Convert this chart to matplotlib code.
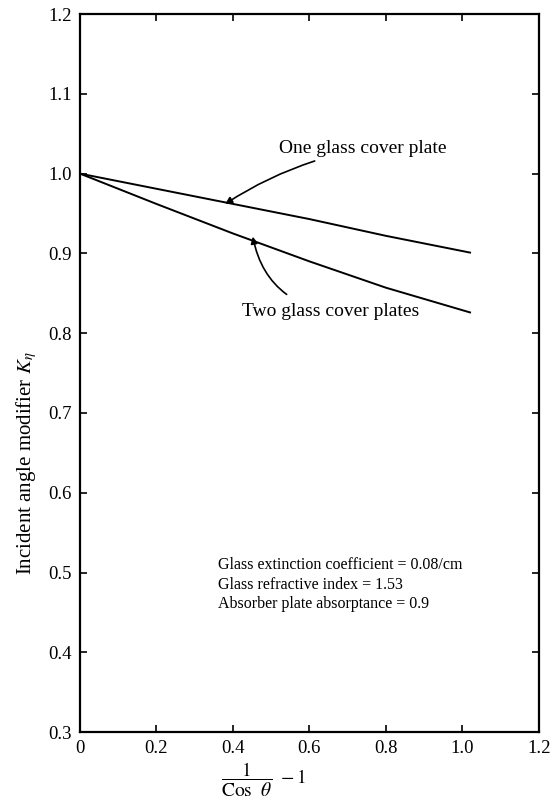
import matplotlib.pyplot as plt
import numpy as np

plt.rcParams['font.family'] = ['Liberation Serif', 'DejaVu Serif']
plt.rcParams['mathtext.fontset'] = 'stix'

# incidence parameter 1/cos(theta) - 1
x_vals = [0.0, 0.2, 0.4, 0.6, 0.8, 1.02]
# incident angle modifier for one and two cover plates
k_one = [1.0, 0.981, 0.962, 0.943, 0.922, 0.901]
k_two = [1.0, 0.962, 0.925, 0.890, 0.857, 0.826]

notes = ["Glass extinction coefficient = 0.08/cm",
         "Glass refractive index = 1.53",
         "Absorber plate absorptance = 0.9"]

fig = plt.figure(figsize=(5.51, 8.01), dpi=100)
ax = fig.add_axes([0.145, 0.086, 0.833, 0.8965])

ax.plot(x_vals, k_one, color='black', lw=1.4)
ax.plot(x_vals, k_two, color='black', lw=1.4)

ax.set_xlim(0, 1.2)
ax.set_ylim(0.3, 1.2)
ax.set_xticks(np.arange(0, 1.21, 0.2))
ax.set_xticklabels(['0', '0.2', '0.4', '0.6', '0.8', '1.0', '1.2'])
ax.set_yticks(np.arange(0.3, 1.21, 0.1))
ax.set_yticklabels([f"{v:.1f}" for v in np.arange(0.3, 1.21, 0.1)])
ax.tick_params(direction='in', length=5, width=1.2, labelsize=13.5,
               top=True, right=True, pad=6)
for s in ax.spines.values():
    s.set_linewidth(1.6)

ax.set_ylabel(r"Incident angle modifier $K_\eta$", fontsize=15, labelpad=4)
ax.yaxis.set_label_coords(-0.09, 0.375)
ax.set_xlabel(r"$\dfrac{1}{\mathrm{Cos}\ \ \theta}\ -1$", fontsize=14, labelpad=0)
ax.xaxis.set_label_coords(0.40, -0.04)
ax.xaxis.label.set_va('top')

# curve labels with curved leader arrows
ax.annotate("One glass cover plate", xy=(0.38, 0.962), xytext=(0.52, 1.031),
            fontsize=14, va='center', ha='left',
            arrowprops=dict(arrowstyle='-|>', color='black', lw=1.2,
                            mutation_scale=10, shrinkA=2, shrinkB=0,
                            connectionstyle='arc3,rad=0.1'))
ax.annotate("Two glass cover plates", xy=(0.452, 0.921), xytext=(0.425, 0.827),
            fontsize=14, va='center', ha='left',
            arrowprops=dict(arrowstyle='-|>', color='black', lw=1.2,
                            mutation_scale=10, shrinkA=8, shrinkB=0,
                            connectionstyle='arc3,rad=-0.35'))

for i, line in enumerate(notes):
    ax.text(0.36, 0.51 - 0.025 * i, line, fontsize=11.5, va='center', ha='left')

fig.savefig("out.png", dpi=100)
